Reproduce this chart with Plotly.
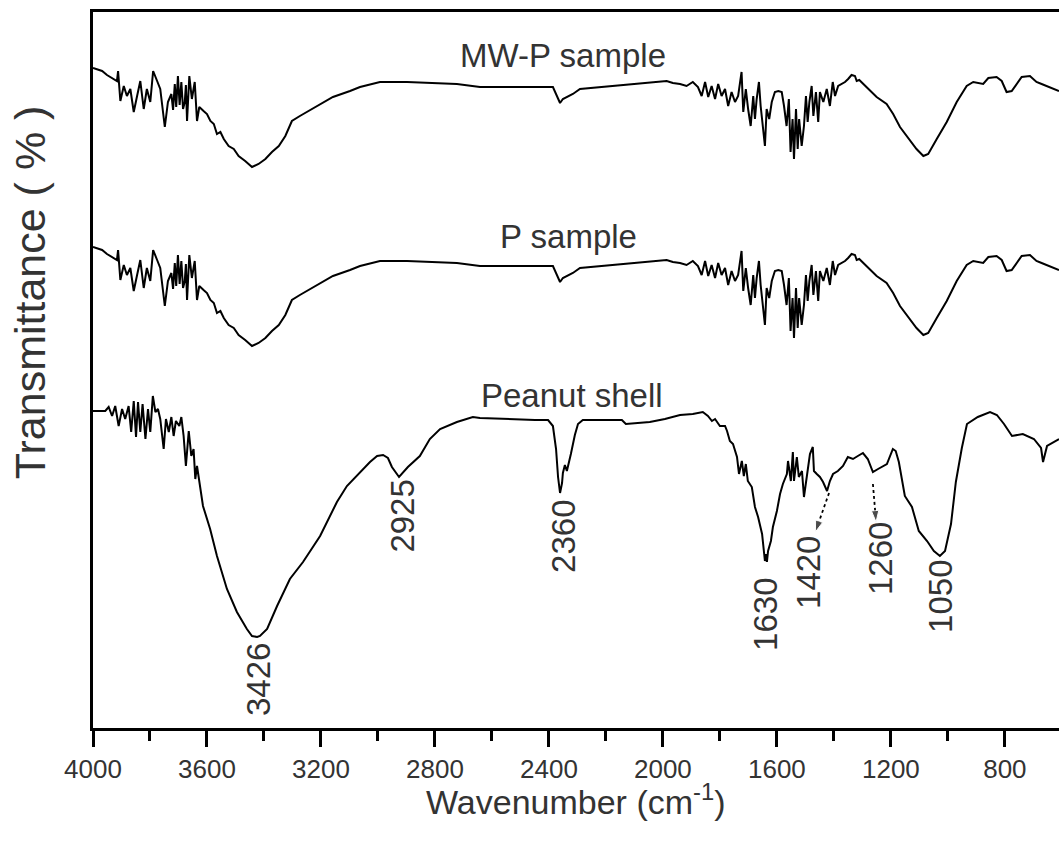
import plotly.graph_objects as go

# ---------------- data (wavenumber in cm-1, transmittance in a.u.) ----------------
mwp_wn = [4000, 3968, 3951, 3933, 3916, 3912, 3904, 3892, 3881, 3869, 3857, 3846, 3834, 3822, 3811,
          3799, 3789, 3775, 3764, 3748, 3737, 3725, 3719, 3713, 3708, 3702, 3696, 3690, 3684, 3678,
          3674, 3670, 3666, 3662, 3653, 3643,
          3635, 3627, 3612, 3600, 3588, 3576, 3565, 3553, 3541, 3524, 3506, 3489, 3466, 3442, 3419,
          3395, 3372, 3348, 3325, 3302, 3274, 3214, 3158, 3098, 3063, 2993, 2898, 2723, 2642, 2386,
          2372, 2361, 2351, 2316, 2291, 2175, 2081,
          2010, 1987, 1965, 1940, 1917, 1895, 1877, 1864, 1852, 1841, 1829, 1817, 1806, 1794, 1782,
          1771, 1759, 1747, 1736, 1724, 1718, 1709, 1701, 1692, 1683, 1677, 1671, 1663, 1657, 1650,
          1642, 1636, 1627, 1618, 1607, 1595, 1583, 1575, 1566, 1558, 1552, 1545, 1540, 1533, 1527,
          1522, 1513, 1505, 1498, 1492, 1486, 1478, 1472, 1463, 1455, 1449, 1437, 1425, 1414, 1404,
          1396, 1385, 1373, 1361, 1350, 1338, 1326, 1320, 1311, 1297, 1273, 1250, 1215, 1192, 1168,
          1133, 1110, 1086, 1069, 1039, 1004, 969, 934, 911, 876, 858, 829, 811, 794, 776, 759, 741,
          712, 689, 671, 653, 630, 610]
mwp_T = [31.7, 31.4, 31.0, 30.7, 30.4, 31.4, 28.4, 29.9, 28.9, 29.6, 27.3, 28.8, 30.4, 27.6, 29.6,
         28.3, 31.4, 30.4, 29.6, 25.8, 28.3, 29.1, 27.5, 30.1, 27.8, 30.9, 28.0, 30.3, 27.6, 28.3,
         30.0, 26.4, 29.5, 30.9, 28.6, 30.3,
         26.4, 27.8, 27.4, 27.1, 26.4, 26.1, 25.1, 25.3, 24.6, 23.9, 23.6, 22.9, 22.4, 21.8, 22.1,
         22.6, 23.3, 23.9, 24.9, 26.4, 26.9, 27.9, 28.8, 29.4, 29.8, 30.3, 30.3, 30.1, 29.8, 29.8,
         28.9, 28.2, 28.6, 29.1, 29.6, 29.9, 30.1,
         30.3, 30.4, 30.2, 30.1, 29.9, 30.3, 29.8, 28.9, 30.3, 28.8, 29.9, 28.6, 30.1, 28.9, 29.6,
         27.9, 29.3, 28.3, 28.9, 31.3, 27.3, 29.6, 27.6, 25.9, 28.9, 26.6, 28.6, 30.3, 27.9, 25.9,
         23.9, 27.6, 26.6, 28.3, 29.3, 29.4, 29.3, 27.9, 25.9, 28.6, 23.3, 26.6, 22.6, 27.6, 23.6,
         26.6, 23.9, 25.9, 28.9, 26.3, 28.3, 29.9, 26.9, 29.3, 26.3, 29.3, 28.3, 29.6, 27.9, 30.3,
         28.9, 29.9, 30.1, 30.3, 30.6, 31.0, 30.9, 30.4, 30.5, 30.1, 29.4, 28.8, 28.1, 27.1, 25.8,
         24.4, 23.6, 22.9, 23.1, 24.6, 26.3, 28.3, 29.9, 30.3, 30.1, 30.7, 30.8, 30.4, 29.3, 29.4,
         30.1, 30.8, 30.9, 30.3, 30.1, 29.9, 29.7, 29.4]

p_wn = list(mwp_wn)
p_T = [31.7, 31.4, 31.0, 30.7, 30.4, 31.4, 28.4, 29.9, 28.9, 29.6, 27.3, 28.8, 30.4, 27.6, 29.6,
       28.3, 31.4, 30.4, 29.6, 25.8, 28.3, 29.1, 27.5, 30.1, 27.8, 30.9, 28.0, 30.3, 27.6, 28.3,
       30.0, 26.4, 29.5, 30.9, 28.6, 30.3,
       26.4, 27.8, 27.4, 27.1, 26.4, 26.1, 25.1, 25.3, 24.6, 23.9, 23.6, 22.9, 22.4, 21.8, 22.1,
       22.6, 23.3, 23.9, 24.9, 26.4, 26.9, 27.9, 28.8, 29.4, 29.8, 30.3, 30.3, 30.1, 29.8, 29.8,
       28.9, 28.2, 28.6, 29.1, 29.6, 29.9, 30.1,
       30.3, 30.4, 30.2, 30.1, 29.9, 30.3, 29.8, 28.9, 30.3, 28.8, 29.9, 28.6, 30.1, 28.9, 29.6,
       27.9, 29.3, 28.3, 28.9, 31.3, 27.3, 29.6, 27.6, 25.9, 28.9, 26.6, 28.6, 30.3, 27.9, 25.9,
       23.9, 27.6, 26.6, 28.3, 29.3, 29.4, 29.3, 27.9, 25.9, 28.6, 23.3, 26.6, 22.6, 27.6, 23.6,
       26.6, 23.9, 25.9, 28.9, 26.3, 28.3, 29.9, 26.9, 29.3, 26.3, 29.3, 28.3, 29.6, 27.9, 30.3,
       28.9, 29.9, 30.1, 30.3, 30.6, 31.0, 30.9, 30.4, 30.5, 30.1, 29.4, 28.8, 28.1, 27.1, 25.8,
       24.4, 23.6, 22.9, 23.1, 24.6, 26.3, 28.3, 29.9, 30.3, 30.1, 30.7, 30.8, 30.4, 29.3, 29.4,
       30.1, 30.8, 30.9, 30.3, 30.1, 29.9, 29.7, 29.4]

shell_wn = [4000, 3957, 3945, 3933, 3922, 3910, 3898, 3887, 3875, 3866, 3857, 3849, 3842, 3834, 3826,
            3816, 3807, 3799, 3790, 3781, 3772, 3764, 3752, 3744, 3734, 3725, 3717, 3709, 3697, 3690,
            3682, 3674, 3664, 3655, 3647, 3641, 3635, 3614, 3589, 3565, 3530, 3495, 3460, 3442, 3424,
            3414, 3389, 3354, 3309, 3263, 3203, 3144, 3109, 3063, 3028, 3003, 2982, 2965, 2951, 2926,
            2895, 2853, 2818, 2782, 2723, 2667, 2642, 2449, 2403, 2386, 2375, 2368, 2361, 2354, 2351,
            2344, 2337, 2323, 2309, 2298, 2281, 2144, 2130, 2046, 1993, 1940, 1895, 1860, 1842, 1828,
            1817, 1800, 1782, 1775, 1765, 1754, 1740, 1733, 1723, 1716, 1709, 1702, 1688, 1677, 1666,
            1652, 1645, 1642, 1638, 1635, 1631, 1621, 1614, 1600, 1589, 1579, 1565, 1561, 1551, 1544,
            1540, 1530, 1523, 1512, 1505, 1495, 1484, 1474, 1470, 1460, 1449, 1438, 1424, 1414, 1403,
            1386, 1368, 1351, 1333, 1316, 1298, 1281, 1263, 1245, 1214, 1193, 1183, 1172, 1151, 1126,
            1102, 1073, 1049, 1028, 1010, 989, 972, 951, 933, 895, 852, 828, 803, 775, 737, 698, 673,
            666, 652, 610]
shell_T = [31.7, 31.7, 32.1, 31.2, 32.2, 30.2, 31.9, 30.9, 32.2, 29.6, 32.7, 29.1, 32.6, 29.6, 32.4,
           28.9, 31.9, 29.6, 33.2, 31.6, 31.9, 30.9, 27.9, 30.9, 29.6, 31.1, 29.2, 30.7, 30.2, 31.1,
           29.2, 26.2, 29.7, 27.2, 27.9, 24.9, 26.2, 22.2, 19.9, 17.2, 13.9, 11.6, 9.9, 9.2, 9.1,
           9.2, 9.9, 12.2, 14.9, 16.6, 19.2, 22.6, 24.2, 25.6, 26.6, 27.2, 27.3, 27.0, 26.1, 25.1,
           26.1, 27.2, 28.9, 29.9, 30.6, 31.1, 31.0, 30.8, 30.8, 30.2, 27.9, 25.1, 23.5, 24.5, 25.5,
           26.3, 25.7, 27.4, 29.3, 30.4, 30.8, 30.8, 30.4, 30.6, 30.9, 31.3, 31.4, 31.6, 31.2, 30.7,
           30.9, 30.2, 30.2, 29.7, 28.7, 28.4, 27.1, 25.4, 26.7, 25.2, 26.4, 24.7, 24.1, 22.1, 21.1,
           19.4, 17.4, 16.7, 17.4, 16.6, 17.7, 18.7, 20.1, 21.7, 23.4, 24.4, 25.4, 26.7, 24.7, 27.6,
           24.7, 27.1, 25.1, 25.7, 23.1, 25.4, 27.4, 28.1, 25.7, 25.4, 25.1, 24.6, 23.7, 24.7, 25.4,
           25.7, 26.2, 27.1, 26.9, 27.2, 27.5, 26.9, 25.6, 25.9, 26.4, 27.9, 27.7, 26.6, 23.2, 22.1,
           19.7, 18.7, 17.7, 17.2, 17.7, 20.4, 24.6, 28.0, 30.4, 31.1, 31.6, 31.3, 30.4, 29.2, 29.4, 28.9,
           28.0, 26.6, 28.2, 28.9]

series_names = ["MW-P sample", "P sample", "Peanut shell"]
stack_offsets = [34.3, 16.4, 0.0]  # vertical offsets used to stack the spectra

peak_labels = ["3426", "2925", "2360", "1630", "1420", "1260", "1050"]
peak_label_wn = [3421, 2917, 2351, 1642, 1491, 1238, 1028]
peak_label_T = [4.9, 21.2, 19.2, 11.4, 15.6, 16.9, 13.2]

xtick_vals = [4000, 3600, 3200, 2800, 2400, 2000, 1600, 1200, 800]

# ---------------- figure ----------------
TXT = "#333333"
FONT = "Liberation Sans, Arial, sans-serif"

fig = go.Figure()
for wn, T, off, nm in zip([mwp_wn, p_wn, shell_wn], [mwp_T, p_T, shell_T], stack_offsets, series_names):
    fig.add_trace(go.Scatter(x=wn, y=[v + off for v in T], mode="lines", name=nm,
                             line=dict(color="black", width=2), showlegend=False))

# dotted pointer arrows for the 1420 and 1260 shoulders
for (tx, ty, hx, hy) in [(1417, 23.5, 1465, 19.6), (1263, 24.4, 1252, 20.6)]:
    fig.add_trace(go.Scatter(x=[tx, hx], y=[ty, hy], mode="lines+markers", showlegend=False,
                             hoverinfo="skip",
                             line=dict(color="black", width=1.8, dash="dot"),
                             marker=dict(symbol="arrow", size=[0, 12], angleref="previous",
                                         color="black")))

# sample names
name_pos = [(2351, 67.3), (2333, 49.2), (2319, 33.3)]
for nm, (xx, yy) in zip(series_names, name_pos):
    fig.add_annotation(x=xx, y=yy, text=nm, showarrow=False,
                       font=dict(family=FONT, size=33, color=TXT))

# peak labels (rotated)
for lab, xx, yy in zip(peak_labels, peak_label_wn, peak_label_T):
    fig.add_annotation(x=xx, y=yy, text=lab, showarrow=False, textangle=-90,
                       font=dict(family=FONT, size=33, color=TXT))

# axis titles
fig.add_annotation(xref="paper", yref="paper", x=-0.065, y=0.609, xanchor="center",
                   yanchor="middle", text="Transmittance ( % )", textangle=-90, showarrow=False,
                   font=dict(family=FONT, size=43, color=TXT))
fig.add_annotation(xref="paper", yref="paper", x=0.5, y=-0.1, xanchor="center",
                   yanchor="middle", text="Wavenumber (cm<sup>-1</sup>)", showarrow=False,
                   font=dict(family=FONT, size=34, color=TXT))

fig.update_layout(
    width=1059, height=847,
    margin=dict(l=93, r=0, t=12, b=119),
    paper_bgcolor="white", plot_bgcolor="white",
    xaxis=dict(range=[4000, 610], tickvals=xtick_vals, ticks="outside", ticklen=16, tickwidth=2.5,
               tickcolor="black", showline=True, linewidth=2.5, linecolor="black", mirror=True,
               showgrid=False, zeroline=False,
               tickfont=dict(family=FONT, size=26, color=TXT),
               minor=dict(dtick=200, tick0=4000, ticks="outside", ticklen=10, tickwidth=2.5,
                          tickcolor="black", showgrid=False)),
    yaxis=dict(range=[0, 71.6], showticklabels=False, ticks="", showline=True, linewidth=2.5,
               linecolor="black", showgrid=False, zeroline=False),
)

fig.write_html("out.html")
